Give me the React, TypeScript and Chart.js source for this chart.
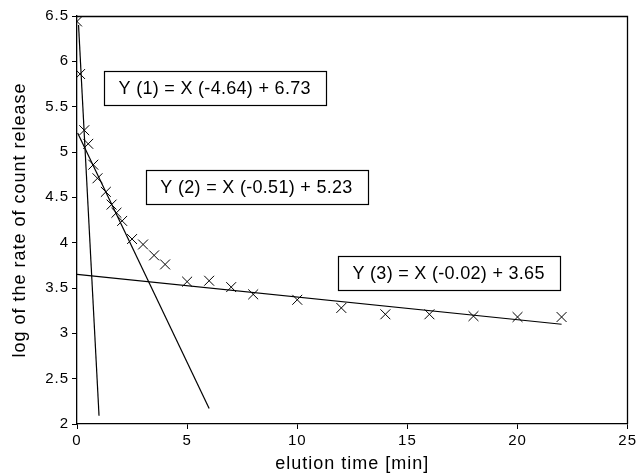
import React, { useEffect, useRef } from 'react';
import { Chart, registerables } from 'chart.js';

Chart.register(...registerables);

// measured release data (elution time [min], log rate)
const sampleX = [0, 0.14, 0.33, 0.51, 0.74, 0.93, 1.31, 1.57, 1.79, 2.05, 2.5, 3, 3.5, 4, 5, 6, 7, 8, 10, 12, 14, 16, 18, 20, 22];
const sampleY = [6.44, 5.86, 5.24, 5.09, 4.86, 4.71, 4.56, 4.42, 4.33, 4.24, 4.04, 3.98, 3.86, 3.76, 3.57, 3.58, 3.51, 3.43, 3.37, 3.28, 3.21, 3.21, 3.19, 3.18, 3.18];

// fitted regression lines (end points as drawn)
const fit1X = [0.07, 1.0];
const fit1Y = [6.4, 2.09];
const fit2X = [0.03, 6.0];
const fit2Y = [5.21, 2.17];
const fit3X = [0, 22];
const fit3Y = [3.65, 3.1];

// axis ticks
const xTicks = [0, 5, 10, 15, 20, 25];
const yTicks = [2, 2.5, 3, 3.5, 4, 4.5, 5, 5.5, 6, 6.5];

// equation labels (anchored at data coordinates)
const eqTexts = ['Y (1) = X (-4.64) + 6.73', 'Y (2) = X (-0.51) + 5.23', 'Y (3) = X (-0.02) + 3.65'];
const eqX = [6.25, 8.15, 16.87];
const eqY = [5.71, 4.61, 3.67];

const FONT = '"Liberation Sans", Arial, Helvetica, sans-serif';

const zip = (xs: number[], ys: number[]) => xs.map((x, i) => ({ x, y: ys[i] }));

export default function App() {
  const ref = useRef<HTMLCanvasElement | null>(null);

  useEffect(() => {
    if (!ref.current) return;

    const spacingPlugin = {
      id: 'spacing',
      beforeLayout(chart: any) {
        chart.ctx.letterSpacing = '1px';
      },
      beforeDraw(chart: any) {
        chart.ctx.letterSpacing = '1px';
      },
    };

    const boxPlugin = {
      id: 'eqboxes',
      afterDraw(chart: any) {
        const { ctx, scales, chartArea } = chart;
        ctx.save();
        ctx.strokeStyle = '#000';
        ctx.lineWidth = 1.3;
        const L = Math.round(chartArea.left);
        const T = Math.round(chartArea.top) + 0.5;
        const R = Math.round(chartArea.right) - 0.5;
        const B = Math.round(chartArea.bottom);
        ctx.beginPath();
        ctx.moveTo(L, T);
        ctx.lineTo(R, T);
        ctx.lineTo(R, B);
        ctx.stroke();
        ctx.letterSpacing = '0.3px';
        ctx.font = `18px ${FONT}`;
        ctx.textAlign = 'center';
        ctx.textBaseline = 'middle';
        eqTexts.forEach((txt, i) => {
          const cx = scales.x.getPixelForValue(eqX[i]);
          const cy = scales.y.getPixelForValue(eqY[i]);
          const w = Math.round(ctx.measureText(txt).width + 30);
          const h = 34;
          const x0 = Math.round(cx - w / 2) + 0.5;
          const y0 = Math.round(cy - h / 2) + 0.5;
          ctx.fillStyle = '#fff';
          ctx.fillRect(x0, y0, w, h);
          ctx.lineWidth = 1.2;
          ctx.strokeRect(x0, y0, w, h);
          ctx.fillStyle = '#000';
          ctx.fillText(txt, cx, cy + 1);
        });
        ctx.restore();
      },
    };

    const lineDs = (xs: number[], ys: number[]) => ({
      data: zip(xs, ys),
      showLine: true,
      borderColor: '#000',
      borderWidth: 1.2,
      pointRadius: 0,
      fill: false,
    });

    const gridOpts = { display: true, drawOnChartArea: false, drawTicks: true, tickLength: 5, color: '#000', lineWidth: 1 };
    const borderOpts = { display: true, color: '#000', width: 1.3 };

    const chart = new Chart(ref.current, {
      type: 'scatter',
      data: {
        datasets: [
          {
            data: zip(sampleX, sampleY),
            pointStyle: 'crossRot',
            pointRadius: 7,
            borderColor: '#000',
            backgroundColor: '#000',
            borderWidth: 1,
            showLine: false,
          } as any,
          lineDs(fit1X, fit1Y),
          lineDs(fit2X, fit2Y),
          lineDs(fit3X, fit3Y),
        ],
      },
      options: {
        animation: false,
        responsive: true,
        maintainAspectRatio: false,
        layout: { padding: { top: 16, right: 11, left: 0, bottom: 0 } },
        plugins: { legend: { display: false }, tooltip: { enabled: false } },
        scales: {
          x: {
            type: 'linear',
            position: 'bottom',
            min: 0,
            max: 25,
            afterBuildTicks: (s: any) => {
              s.ticks = xTicks.map((v) => ({ value: v }));
            },
            afterFit: (s: any) => {
              s.height = 49;
            },
            ticks: {
              color: '#000',
              font: { family: FONT, size: 15 },
              padding: 3,
              maxRotation: 0,
              callback: (v: any) => String(v),
            },
            grid: gridOpts,
            border: borderOpts,
            title: {
              display: true,
              text: 'elution time [min]',
              color: '#000',
              font: { family: FONT, size: 18, lineHeight: 1 },
              padding: { top: 0, bottom: 0 },
            },
          },
          y: {
            type: 'linear',
            position: 'left',
            min: 2,
            max: 6.5,
            afterBuildTicks: (s: any) => {
              s.ticks = yTicks.map((v) => ({ value: v }));
            },
            afterFit: (s: any) => {
              s.width = 77;
            },
            ticks: {
              color: '#000',
              font: { family: FONT, size: 15 },
              padding: 3,
              callback: (v: any) => String(v),
            },
            grid: gridOpts,
            border: borderOpts,
            title: {
              display: true,
              text: 'log of the rate of count release',
              color: '#000',
              font: { family: FONT, size: 18, lineHeight: 1 },
              padding: { top: 11, bottom: 0 },
            },
          },
        },
      },
      plugins: [spacingPlugin, boxPlugin],
    });

    return () => chart.destroy();
  }, []);

  return (
    <div style={{ position: 'absolute', left: 0, top: 0, width: 640, height: 473, background: '#fff' }}>
      <canvas ref={ref} />
    </div>
  );
}
